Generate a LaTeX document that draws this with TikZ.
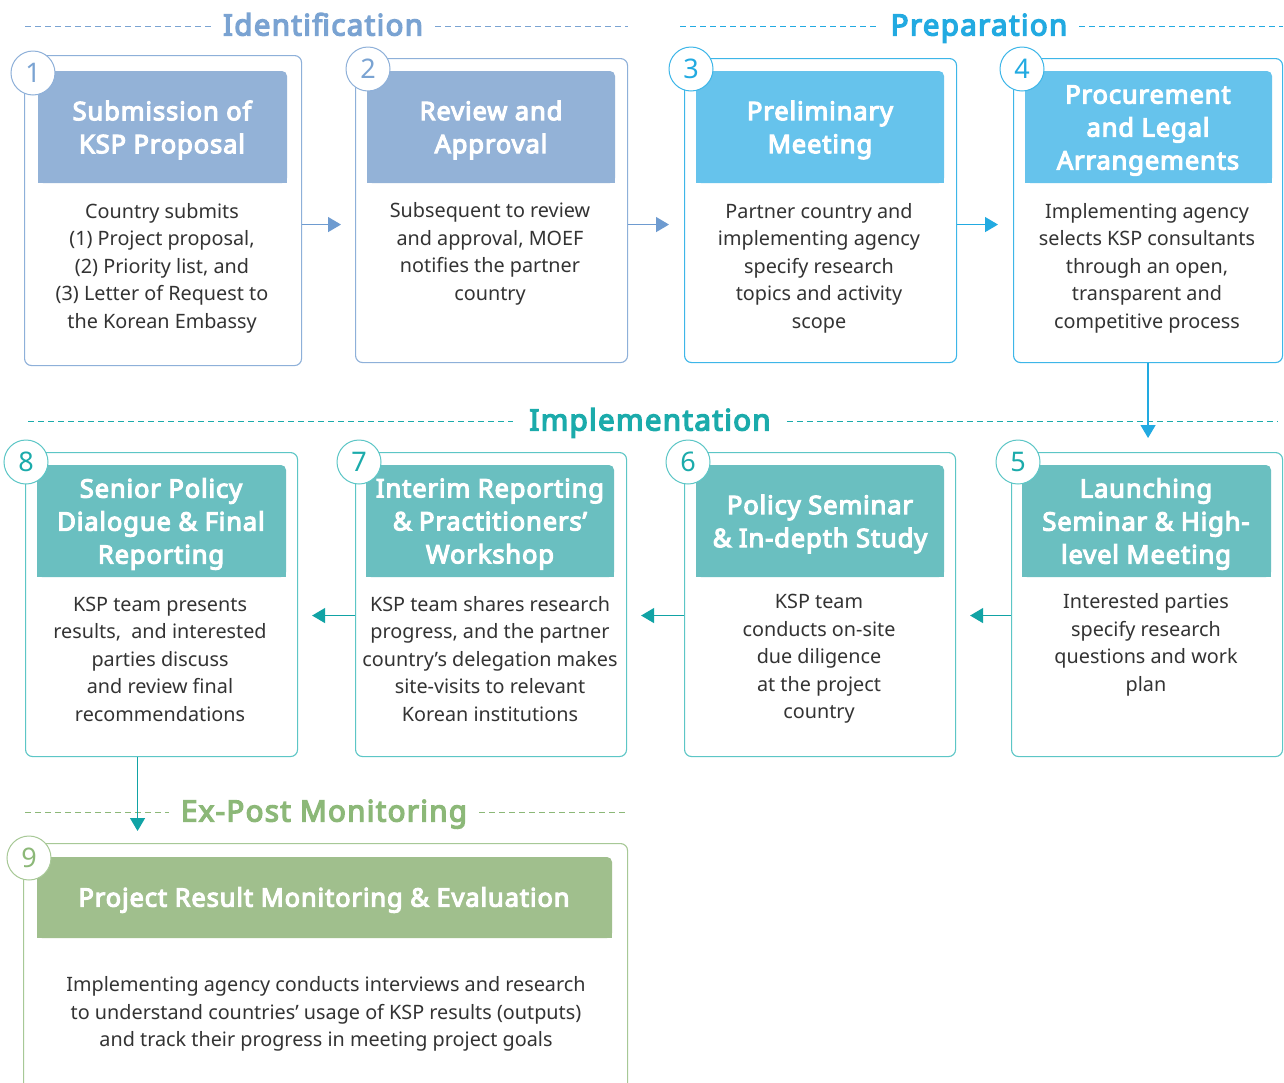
\documentclass[tikz,border=0pt]{standalone}
\usepackage{fontspec}
\setmainfont{Noto Sans}
\newfontfamily\hdfam{Noto Sans}[FakeBold=4.5, LetterSpace=3.5]
\newfontfamily\ttfam{Noto Sans}[FakeBold=4.5, LetterSpace=4.5]
\usetikzlibrary{arrows.meta}
\definecolor{idc}{HTML}{93B2D7}
\definecolor{idl}{HTML}{7AA3D2}
\definecolor{idb}{HTML}{8EB0D9}
\definecolor{ida}{HTML}{6E9BD0}
\definecolor{prc}{HTML}{66C3EC}
\definecolor{prl}{HTML}{22AAE1}
\definecolor{prb}{HTML}{3DB6E8}
\definecolor{imc}{HTML}{6ABFC0}
\definecolor{iml}{HTML}{1BABAB}
\definecolor{imb}{HTML}{5CC6C6}
\definecolor{ima}{HTML}{11A3A5}
\definecolor{moc}{HTML}{A0BF8D}
\definecolor{mol}{HTML}{8CB878}
\definecolor{mob}{HTML}{A7C896}
\definecolor{txt}{HTML}{333333}
\newcommand\hdfont{\hdfam\fontsize{25.5}{33}\selectfont}
\newcommand\bdfont{\fontsize{19.8}{27.5}\selectfont}
\newcommand\numfont{\fontsize{27}{27}\selectfont}
\newcommand\ttlfont{\ttfam\fontsize{29.5}{32}\selectfont}
\newcommand\hdrfill[5]{\fill[#1,rounded corners=5pt] (#2,#3) rectangle (#4,#5);
  \fill[#1] (#2,#3+10) rectangle (#4,#5);}
\tikzset{
  box/.style={draw=#1, line width=1.1pt, rounded corners=7pt, fill=white, anchor=north west, inner sep=0pt},
  hd/.style={text=white, font=\hdfont, align=center, inner sep=0pt},
  bd/.style={text=txt, font=\bdfont, align=center, inner sep=0pt},
  num/.style={circle, draw=#1, fill=white, line width=1pt, minimum size=44pt, inner sep=0pt, font=\numfont},
  ttl/.style={font=\ttlfont, inner xsep=12pt, inner ysep=2pt, anchor=base},
  dsh/.style={draw=#1, line width=1pt, dash pattern=on 6pt off 4pt},
  arr/.style={draw=#1, line width=1.3pt, -{Triangle[length=13pt,width=15pt]}}
}
\begin{document}
\begin{tikzpicture}[x=1pt,y=-1pt]
\useasboundingbox[fill=white] (0,0) rectangle (1284,1082);
\clip (0,0) rectangle (1284,1082);

% ---- section titles and dashed rules
\node[ttl, text=idl] (t1) at (323,35.5) {Identification};
\node[ttl, text=prl] (t2) at (979,35.5) {Preparation};
\node[ttl, text=iml, inner xsep=16pt] (t3) at (650,430.5) {Implementation};
\node[ttl, text=mol] (t4) at (324,821.5) {Ex-Post Monitoring};
\coordinate (d1a) at (25,26);  \coordinate (d1b) at (628,26);
\coordinate (d2a) at (680,26); \coordinate (d2b) at (1283,26);
\coordinate (d3a) at (28,421); \coordinate (d3b) at (1278,421);
\coordinate (d4a) at (25,812); \coordinate (d4b) at (628,812);
\draw[dsh=idl] (d1a) -- (d1a -| t1.west);  \draw[dsh=idl] (d1b -| t1.east) -- (d1b);
\draw[dsh=prl] (d2a) -- (d2a -| t2.west);  \draw[dsh=prl] (d2b -| t2.east) -- (d2b);
\draw[dsh=iml] (d3a) -- (d3a -| t3.west);  \draw[dsh=iml] (d3b -| t3.east) -- (d3b);
\draw[dsh=mol] (d4a) -- (d4a -| t4.west);  \draw[dsh=mol] (d4b -| t4.east) -- (d4b);

% ---- row 1 boxes
\node[box=idb, minimum width=277pt, minimum height=310pt] (b1) at (24,55) {};
\node[box=idb, minimum width=272pt, minimum height=304pt] (b2) at (355,58) {};
\node[box=prb, minimum width=272pt, minimum height=304pt] (b3) at (684,58) {};
\node[box=prb, minimum width=269pt, minimum height=304pt] (b4) at (1013,58) {};
% ---- row 2 boxes
\node[box=imb, minimum width=272pt, minimum height=304pt] (b8) at (25,452) {};
\node[box=imb, minimum width=271pt, minimum height=304pt] (b7) at (355,452) {};
\node[box=imb, minimum width=271pt, minimum height=304pt] (b6) at (684,452) {};
\node[box=imb, minimum width=271pt, minimum height=304pt] (b5) at (1011,452) {};
% ---- box 9
\node[box=mob, minimum width=604pt, minimum height=270pt] (b9) at (23,843) {};

% ---- header fills
\hdrfill{idc}{38}{71}{287}{183}
\hdrfill{idc}{367}{71}{615}{183}
\hdrfill{prc}{696}{71}{944}{183}
\hdrfill{prc}{1025}{71}{1272}{183}
\hdrfill{imc}{37}{465}{286}{577}
\hdrfill{imc}{366}{465}{614}{577}
\hdrfill{imc}{696}{465}{944}{577}
\hdrfill{imc}{1022}{465}{1271}{577}
\hdrfill{moc}{37}{857}{612}{938}

% ---- header texts
\node[hd] (h1) at (162,130) {Submission of\\KSP Proposal};
\node[hd] (h2) at (491,130) {Review and\\Approval};
\node[hd] (h3) at (820,130) {Preliminary\\Meeting};
\node[hd] (h4) at (1148,130.5) {Procurement\\and Legal\\Arrangements};
\node[hd] (h8) at (161,524) {Senior Policy\\Dialogue \& Final\\Reporting};
\node[hd] (h7) at (490,524) {Interim Reporting\\\& Practitioners’\\Workshop};
\node[hd] (h6) at (820,524) {Policy Seminar\\\& In-depth Study};
\node[hd] (h5) at (1146,524) {Launching\\Seminar \& High-\\level Meeting};
\node[hd] (h9) at (324,900) {Project Result Monitoring \& Evaluation};

% ---- body texts
\node[bd] (x1) at (162,268) {Country submits\\(1) Project proposal,\\(2) Priority list, and\\(3) Letter of Request to\\the Korean Embassy};
\node[bd] (x2) at (490,254) {Subsequent to review\\and approval, MOEF\\notifies the partner\\country};
\node[bd] (x3) at (819,268) {Partner country and\\implementing agency\\specify research\\topics and activity\\scope};
\node[bd] (x4) at (1147,268) {Implementing agency\\selects KSP consultants\\through an open,\\transparent and\\competitive process};
\node[bd] (x8) at (160,659) {KSP team presents\\results,~ and interested\\parties discuss\\and review final\\recommendations};
\node[bd] (x7) at (490,659) {KSP team shares research\\progress, and the partner\\country’s delegation makes\\site-visits to relevant\\Korean institutions};
\node[bd] (x6) at (819,659) {KSP team\\conducts on-site\\due diligence\\at the project\\country};
\node[bd] (x5) at (1146,645) {Interested parties\\specify research\\questions and work\\plan};
\node[bd] (x9) at (326,1014) {Implementing agency conducts interviews and research\\to understand countries’ usage of KSP results (outputs)\\and track their progress in meeting project goals};

% ---- number circles
\node[num=idb, text=idl] (c1) at (33,73) {1};
\node[num=idb, text=idl] (c2) at (368,69) {2};
\node[num=prb, text=prl] (c3) at (691,69) {3};
\node[num=prb, text=prl] (c4) at (1022,69) {4};
\node[num=imb, text=iml] (c8) at (26,462) {8};
\node[num=imb, text=iml] (c7) at (359,462) {7};
\node[num=imb, text=iml] (c6) at (688,462) {6};
\node[num=imb, text=iml] (c5) at (1018,462) {5};
\node[num=mob, text=mol] (c9) at (29,858) {9};

% ---- connectors
\draw[arr=ida, shorten >=14pt] ([yshift=-14pt]b1.east) -- ([yshift=-14pt]b2.west);
\draw[arr=ida, shorten >=15pt] ([yshift=-14pt]b2.east) -- ([yshift=-14pt]b3.west);
\draw[arr=prl, shorten >=15pt] ([yshift=-14pt]b3.east) -- ([yshift=-14pt]b4.west);
\draw[arr=prl, shorten >=14pt] (b4.south) -- (b4.south |- b5.north);
\draw[arr=ima, shorten >=14pt] ([yshift=-11pt]b5.west) -- ([yshift=-11pt]b6.east);
\draw[arr=ima, shorten >=14pt] ([yshift=-11pt]b6.west) -- ([yshift=-11pt]b7.east);
\draw[arr=ima, shorten >=14pt] ([yshift=-11pt]b7.west) -- ([yshift=-11pt]b8.east);
\draw[arr=ima, shorten >=12pt] ([xshift=-24pt]b8.south) -- ([xshift=-24pt]b8.south |- b9.north);
\end{tikzpicture}
\end{document}
